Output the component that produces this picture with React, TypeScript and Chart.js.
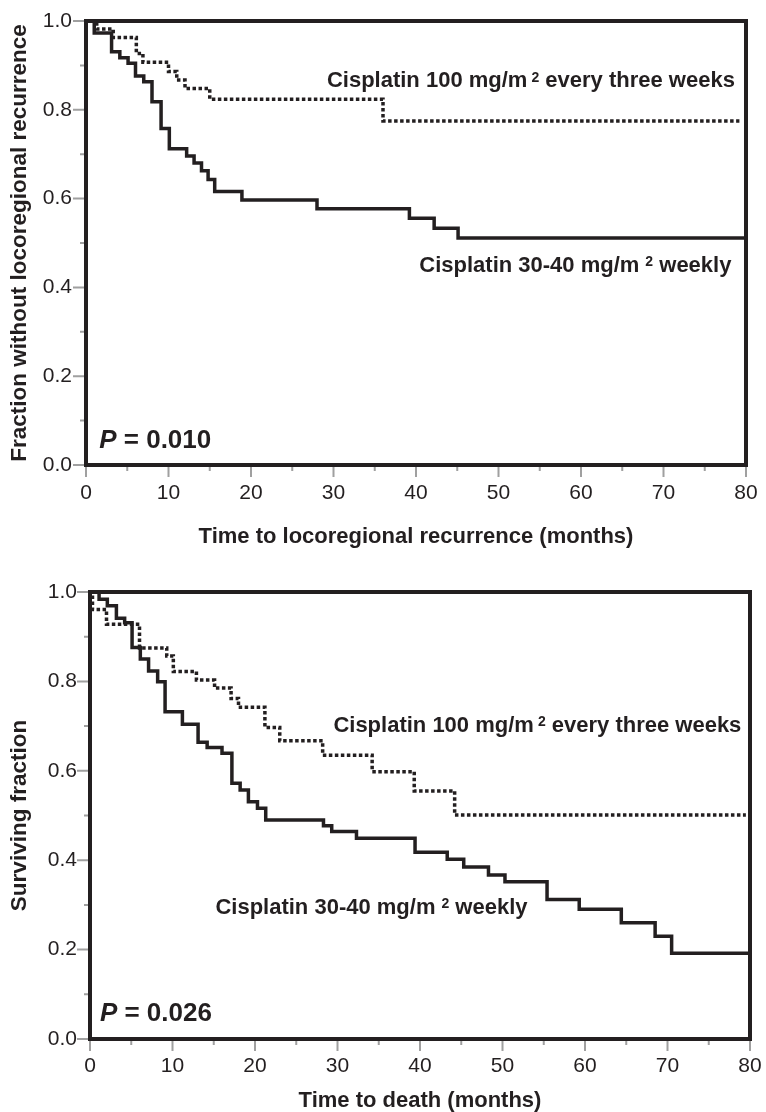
import React, { useEffect, useRef } from 'react';
import { Chart, registerables } from 'chart.js';

Chart.register(...registerables);

const FONT = "'Liberation Sans', Arial, Helvetica, sans-serif";
const INK = '#231f20';
const TICK_GRAY = '#a0a0a0';
const PAGE_W = 766;
const PANEL_H = 556;

// ---------- Panel A: locoregional recurrence ----------
const recurrenceMonthsWeekly = [0, 1.0, 3.1, 4.1, 5.1, 6.0, 7.0, 8.0, 9.1, 10.1, 12.2, 13.1, 14.0, 14.8, 15.6, 18.9, 28.0, 39.2, 42.2, 45.1, 80];
const recurrenceFreeWeekly = [1, 0.973, 0.931, 0.917, 0.905, 0.876, 0.863, 0.818, 0.758, 0.712, 0.696, 0.68, 0.663, 0.643, 0.616, 0.597, 0.577, 0.556, 0.533, 0.511, 0.511];
const recurrenceMonths3w = [0, 1.3, 3.3, 6.1, 6.9, 10.0, 11.0, 12.0, 15.0, 36.0, 79.2];
const recurrenceFree3w = [1, 0.982, 0.963, 0.927, 0.907, 0.886, 0.867, 0.848, 0.824, 0.775, 0.775];

// ---------- Panel B: overall survival ----------
const deathMonthsWeekly = [0, 1.1, 2.1, 3.2, 4.2, 5.1, 6.1, 7.1, 8.2, 9.1, 11.2, 13.1, 14.2, 16.0, 17.2, 18.2, 19.2, 20.3, 21.3, 28.3, 29.3, 32.3, 39.4, 43.3, 45.3, 48.3, 50.3, 55.4, 59.3, 64.4, 68.5, 70.5, 80];
const survivalWeekly = [1, 0.984, 0.969, 0.941, 0.931, 0.876, 0.85, 0.823, 0.799, 0.732, 0.704, 0.664, 0.652, 0.639, 0.572, 0.557, 0.531, 0.516, 0.49, 0.477, 0.464, 0.449, 0.418, 0.402, 0.385, 0.367, 0.352, 0.312, 0.29, 0.26, 0.23, 0.192, 0.192];
const deathMonths3w = [0, 0.3, 2.0, 6.0, 9.3, 10.1, 12.9, 15.1, 17.1, 18.0, 21.2, 23.0, 28.2, 34.2, 39.3, 44.2, 79.5];
const survival3w = [1, 0.961, 0.928, 0.875, 0.857, 0.822, 0.803, 0.785, 0.762, 0.742, 0.697, 0.667, 0.635, 0.598, 0.555, 0.501, 0.501];

// ---------- Axes ----------
const xTickValues = [0, 10, 20, 30, 40, 50, 60, 70, 80];
const xTickLabels = ['0', '10', '20', '30', '40', '50', '60', '70', '80'];
const xMinorTickValues = [5, 15, 25, 35, 45, 55, 65, 75];
const yTickValues = [0, 0.2, 0.4, 0.6, 0.8, 1.0];
const yTickLabels = ['0.0', '0.2', '0.4', '0.6', '0.8', '1.0'];
const yMinorTickValues = [0.1, 0.3, 0.5, 0.7, 0.9];

const seriesNames = ['Cisplatin 30-40 mg/m² weekly', 'Cisplatin 100 mg/m² every three weeks'];
const labelWeekly = { before: 'Cisplatin 30-40 mg/m', sup: '2', after: ' weekly' };
const label3w = { before: 'Cisplatin 100 mg/m', sup: '2', after: ' every three weeks' };

type Pt = { x: number; y: number };
type LabelPos = { x: number; y: number; gap: number };

type PanelSpec = {
  key: string;
  area: { left: number; right: number; top: number; bottom: number };
  xTitle: string;
  yTitle: string;
  xTickPadding: number;
  yTickPadding: number;
  xTitlePadBottom: number;
  xTitleLineHeight: number;
  weekly: [number[], number[]];
  threeWeekly: [number[], number[]];
  pText: string;
  pAt: Pt;
  weeklyAt: LabelPos;
  threeWeeklyAt: LabelPos;
};

const panels: PanelSpec[] = [
  {
    key: 'lrr',
    area: { left: 86, right: 746, top: 21, bottom: 465 },
    xTitle: 'Time to locoregional recurrence (months)',
    yTitle: 'Fraction without locoregional recurrence',
    xTickPadding: 4,
    yTickPadding: 1,
    xTitlePadBottom: 6,
    xTitleLineHeight: 1.2,
    weekly: [recurrenceMonthsWeekly, recurrenceFreeWeekly],
    threeWeekly: [recurrenceMonths3w, recurrenceFree3w],
    pText: '0.010',
    pAt: { x: 1.6, y: 0.0586 },
    weeklyAt: { x: 40.4, y: 0.453, gap: 6 },
    threeWeeklyAt: { x: 29.2, y: 0.868, gap: 4 },
  },
  {
    key: 'os',
    area: { left: 90, right: 750, top: 36, bottom: 483 },
    xTitle: 'Time to death (months)',
    yTitle: 'Surviving fraction',
    xTickPadding: 3,
    yTickPadding: 0,
    xTitlePadBottom: 0,
    xTitleLineHeight: 1.0,
    weekly: [deathMonthsWeekly, survivalWeekly],
    threeWeekly: [deathMonths3w, survival3w],
    pText: '0.026',
    pAt: { x: 1.2, y: 0.061 },
    weeklyAt: { x: 15.2, y: 0.298, gap: 6 },
    threeWeeklyAt: { x: 29.5, y: 0.705, gap: 4 },
  },
];

const toPoints = (t: number[], s: number[]): Pt[] => t.map((v, i) => ({ x: v, y: s[i] }));

function drawSupLabel(ctx: CanvasRenderingContext2D, xPx: number, yPx: number, lab: typeof label3w, gap: number) {
  const size = 22;
  const supSize = 14;
  ctx.fillStyle = INK;
  ctx.textAlign = 'left';
  ctx.textBaseline = 'alphabetic';
  const base = yPx + size * 0.358;
  ctx.font = `bold ${size}px ${FONT}`;
  ctx.fillText(lab.before, xPx, base);
  let cx = xPx + ctx.measureText(lab.before).width + gap;
  ctx.font = `bold ${supSize}px ${FONT}`;
  const supBase = base - size * 0.716 + supSize * 0.716;
  ctx.fillText(lab.sup, cx, supBase);
  cx += ctx.measureText(lab.sup).width;
  ctx.font = `bold ${size}px ${FONT}`;
  ctx.fillText(lab.after, cx, base);
}

const kmDecor = {
  id: 'kmDecor',
  afterDatasetsDraw(chart: any, _args: any, opts: any) {
    const { ctx, chartArea: a } = chart;
    const x = chart.scales.x;
    const y = chart.scales.y;
    const spec: PanelSpec = opts.spec;
    ctx.save();
    // tick marks (major + minor)
    ctx.strokeStyle = TICK_GRAY;
    ctx.lineWidth = 2;
    ctx.beginPath();
    xTickValues.forEach((v) => {
      const px = x.getPixelForValue(v);
      ctx.moveTo(px, a.bottom);
      ctx.lineTo(px, a.bottom + 12);
    });
    xMinorTickValues.forEach((v) => {
      const px = x.getPixelForValue(v);
      ctx.moveTo(px, a.bottom);
      ctx.lineTo(px, a.bottom + 6);
    });
    yTickValues.forEach((v) => {
      const py = y.getPixelForValue(v);
      ctx.moveTo(a.left - 13, py);
      ctx.lineTo(a.left, py);
    });
    yMinorTickValues.forEach((v) => {
      const py = y.getPixelForValue(v);
      ctx.moveTo(a.left - 6, py);
      ctx.lineTo(a.left, py);
    });
    ctx.stroke();
    // frame
    ctx.strokeStyle = INK;
    ctx.lineWidth = 4;
    ctx.strokeRect(a.left, a.top, a.right - a.left, a.bottom - a.top);
    // curve labels
    drawSupLabel(ctx, x.getPixelForValue(spec.threeWeeklyAt.x), y.getPixelForValue(spec.threeWeeklyAt.y), label3w, spec.threeWeeklyAt.gap);
    drawSupLabel(ctx, x.getPixelForValue(spec.weeklyAt.x), y.getPixelForValue(spec.weeklyAt.y), labelWeekly, spec.weeklyAt.gap);
    // P value
    const pSize = 26;
    const px = x.getPixelForValue(spec.pAt.x);
    const pBase = y.getPixelForValue(spec.pAt.y) + pSize * 0.358;
    ctx.fillStyle = INK;
    ctx.textAlign = 'left';
    ctx.textBaseline = 'alphabetic';
    ctx.font = `italic bold ${pSize}px ${FONT}`;
    ctx.fillText('P', px, pBase);
    const w = ctx.measureText('P').width;
    ctx.font = `bold ${pSize}px ${FONT}`;
    ctx.fillText(' = ' + spec.pText, px + w, pBase);
    ctx.restore();
  },
};

function Panel({ spec }: { spec: PanelSpec }) {
  const ref = useRef<HTMLCanvasElement | null>(null);
  useEffect(() => {
    if (!ref.current) return;
    const a = spec.area;
    const chart = new Chart(ref.current, {
      type: 'line',
      data: {
        datasets: [
          {
            label: seriesNames[0],
            data: toPoints(spec.weekly[0], spec.weekly[1]),
            borderColor: INK,
            borderWidth: 3.5,
            stepped: 'before',
            pointRadius: 0,
            fill: false,
            borderCapStyle: 'butt',
            borderJoinStyle: 'miter',
          },
          {
            label: seriesNames[1],
            data: toPoints(spec.threeWeekly[0], spec.threeWeekly[1]),
            borderColor: INK,
            borderWidth: 3.5,
            borderDash: [3.5, 2.5],
            stepped: 'before',
            pointRadius: 0,
            fill: false,
            borderCapStyle: 'butt',
            borderJoinStyle: 'miter',
          },
        ],
      },
      options: {
        animation: false,
        responsive: false,
        maintainAspectRatio: false,
        devicePixelRatio: 1,
        layout: { padding: { left: 0, top: a.top, right: PAGE_W - a.right, bottom: 0 } },
        plugins: {
          legend: { display: false },
          tooltip: { enabled: false },
          kmDecor: { spec },
        } as any,
        scales: {
          x: {
            type: 'linear',
            min: 0,
            max: 80,
            afterBuildTicks: (s: any) => {
              s.ticks = xTickValues.map((v) => ({ value: v }));
            },
            afterFit: (s: any) => {
              s.height = PANEL_H - a.bottom;
            },
            grid: { display: true, drawOnChartArea: false, color: 'rgba(0,0,0,0)', tickColor: 'rgba(0,0,0,0)', tickLength: 12 },
            border: { display: false },
            ticks: {
              autoSkip: false,
              maxRotation: 0,
              padding: spec.xTickPadding,
              color: INK,
              font: { family: FONT, size: 21 },
              callback: (_v: any, i: number) => xTickLabels[i],
            },
            title: {
              display: true,
              text: spec.xTitle,
              color: INK,
              font: { family: FONT, size: 22, weight: 'bold', lineHeight: spec.xTitleLineHeight },
              padding: { top: 0, bottom: spec.xTitlePadBottom },
            },
          },
          y: {
            type: 'linear',
            min: 0,
            max: 1,
            afterBuildTicks: (s: any) => {
              s.ticks = yTickValues.map((v) => ({ value: v }));
            },
            afterFit: (s: any) => {
              s.width = a.left;
            },
            grid: { display: true, drawOnChartArea: false, color: 'rgba(0,0,0,0)', tickColor: 'rgba(0,0,0,0)', tickLength: 13 },
            border: { display: false },
            ticks: {
              autoSkip: false,
              padding: spec.yTickPadding,
              color: INK,
              font: { family: FONT, size: 21 },
              callback: (_v: any, i: number) => yTickLabels[i],
            },
            title: {
              display: true,
              text: spec.yTitle,
              color: INK,
              font: { family: FONT, size: 22.5, weight: 'bold', lineHeight: 1.2 },
              padding: { top: 6, bottom: 0 },
            },
          },
        },
      } as any,
      plugins: [kmDecor as any],
    });
    return () => chart.destroy();
  }, [spec]);
  return <canvas ref={ref} width={PAGE_W} height={PANEL_H} style={{ display: 'block', width: PAGE_W, height: PANEL_H }} />;
}

export default function App() {
  useEffect(() => {
    document.body.style.margin = '0';
    document.body.style.overflow = 'hidden';
    document.body.style.background = '#ffffff';
  }, []);
  return (
    <div style={{ width: PAGE_W, height: PANEL_H * 2, overflow: 'hidden', background: '#ffffff' }}>
      {panels.map((p) => (
        <Panel key={p.key} spec={p} />
      ))}
    </div>
  );
}
